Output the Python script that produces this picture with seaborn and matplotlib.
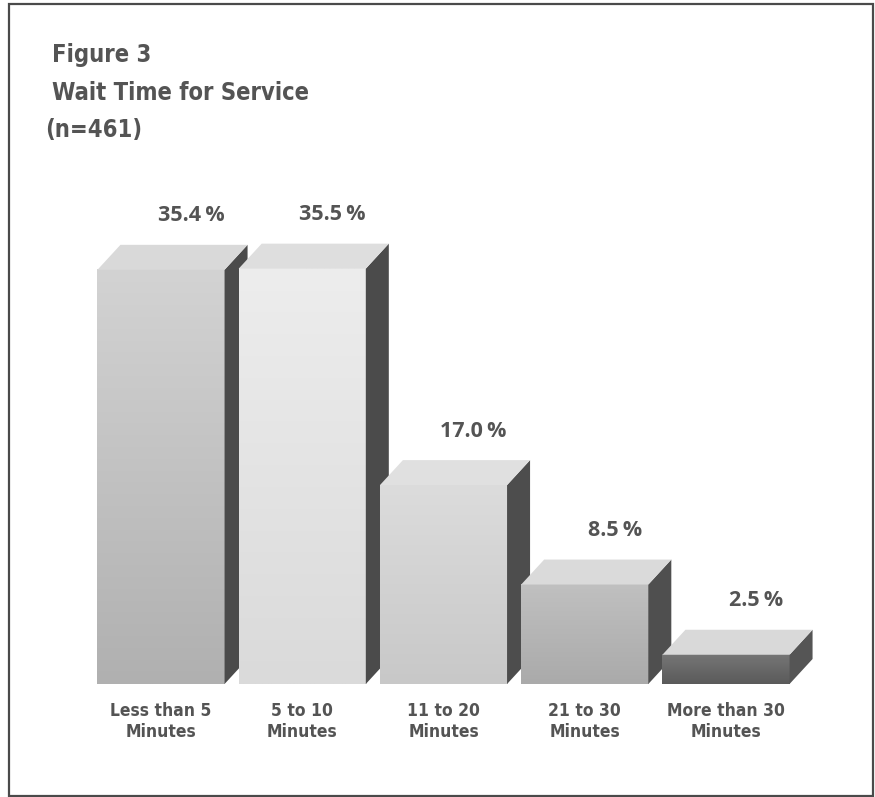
import numpy as np
import matplotlib
matplotlib.use("Agg")
import matplotlib.pyplot as plt
from matplotlib.patches import Polygon, Rectangle
from matplotlib.colors import LinearSegmentedColormap
import seaborn as sns
import pandas as pd

# ---- data -------------------------------------------------------------
categories = ["Less than 5\nMinutes", "5 to 10\nMinutes", "11 to 20\nMinutes",
              "21 to 30\nMinutes", "More than 30\nMinutes"]
shares = [35.4, 35.5, 17.0, 8.5, 2.5]

title_lines = ["Figure 3", "Wait Time for Service", "(n=461)"]

# ---- styling ----------------------------------------------------------
front_top = ["#d3d3d3", "#ededed", "#dcdcdc", "#c0c0c0", "#767676"]
front_bottom = ["#b0b0b0", "#dadada", "#c8c8c8", "#aaaaaa", "#5a5a5a"]
roof_colors = ["#d9d9d9", "#dedede", "#e0e0e0", "#dadada", "#d9d9d9"]
side_colors = ["#4b4b4b", "#4b4b4b", "#4d4d4d", "#4f4f4f", "#555555"]

TEXT = "#545454"
COND = ["Liberation Sans Narrow", "DejaVu Sans"]

sns.set_theme(style="white")
plt.rcParams["font.family"] = ["Open Sans", "DejaVu Sans"]

W, H = 875, 797
fig = plt.figure(figsize=(W / 100, H / 100), dpi=100)
fig.patch.set_facecolor("white")

# plotting area, expressed in pixels of the canvas
ax_l, ax_r, ax_b, ax_t = 60, 860, 684, 140
ax = fig.add_axes([ax_l / W, 1 - ax_b / H, (ax_r - ax_l) / W, (ax_b - ax_t) / H])

df = pd.DataFrame({"wait": categories, "share": shares})
sns.barplot(data=df, x="wait", y="share", hue="wait", palette=front_top,
            width=0.9, saturation=1, legend=False, ax=ax, edgecolor="none")

# scale: bar pitch and vertical units in pixels
pitch_px, first_center_px, unit_px = 141.25, 161.0, 11.7
xlim = ((ax_l - first_center_px) / pitch_px, (ax_r - first_center_px) / pitch_px)
ylim = (0, (ax_b - ax_t) / unit_px)

# extrusion depth of the 3-D boxes
dx = 23 / pitch_px
dy = 25 / unit_px

bars = sorted([p for p in ax.patches if p.get_height() > 0], key=lambda p: p.get_x())
for i, p in enumerate(bars):
    x0, w, h = p.get_x(), p.get_width(), p.get_height()
    x1 = x0 + w
    z = 2 + i  # each box sits in front of the one on its left
    p.set_zorder(z)
    # front face with a soft vertical shade
    cmap = LinearSegmentedColormap.from_list("f", [front_bottom[i], front_top[i]])
    grad = np.linspace(1, 0, 256).reshape(-1, 1)
    ax.imshow(grad, extent=[x0, x1, 0, h], aspect="auto", cmap=cmap,
              vmin=0, vmax=1, zorder=z + 0.1, interpolation="bilinear")
    # right side
    ax.add_patch(Polygon([(x1, 0), (x1 + dx, dy), (x1 + dx, h + dy), (x1, h)],
                         closed=True, facecolor=side_colors[i], edgecolor="none",
                         zorder=z + 0.2, clip_on=False))
    # top
    ax.add_patch(Polygon([(x0, h), (x0 + dx, h + dy), (x1 + dx, h + dy), (x1, h)],
                         closed=True, facecolor=roof_colors[i], edgecolor="none",
                         zorder=z + 0.3, clip_on=False))
    ax.annotate(f"{shares[i]:.1f}\u2009%", xy=(x0 + w / 2, h),
                xytext=(30 * 0.72, 54 * 0.72), textcoords="offset points",
                ha="center", va="center", fontsize=15.5, fontweight="bold",
                color=TEXT, annotation_clip=False, zorder=10)

ax.set_xlim(*xlim)
ax.set_ylim(*ylim)

ax.set_xticks(range(len(categories)))
ax.set_xticklabels(categories, fontfamily=COND, fontweight="bold", fontsize=12.5,
                   color=TEXT, linespacing=1.2, fontstretch="condensed")
ax.tick_params(axis="x", length=0, pad=13)
ax.set_yticks([])
ax.set_xlabel("")
ax.set_ylabel("")
sns.despine(ax=ax, left=True, bottom=True)
ax.patch.set_alpha(0)

# heading block
baselines = [62, 100, 137]
lefts = [52, 52, 45]
for txt, yb, xl in zip(title_lines, baselines, lefts):
    fig.text(xl / W, 1 - yb / H, txt, fontsize=17, fontweight="bold",
             family=COND, fontstretch="condensed", color=TEXT, va="baseline", ha="left")

# frame around the figure
fig.add_artist(Rectangle((9 / W, 1 - 796 / H), (873 - 9) / W, (796 - 4) / H,
                         transform=fig.transFigure, fill=False, lw=1.6,
                         edgecolor="#4a4a4a"))

fig.savefig("out.png", dpi=100)
